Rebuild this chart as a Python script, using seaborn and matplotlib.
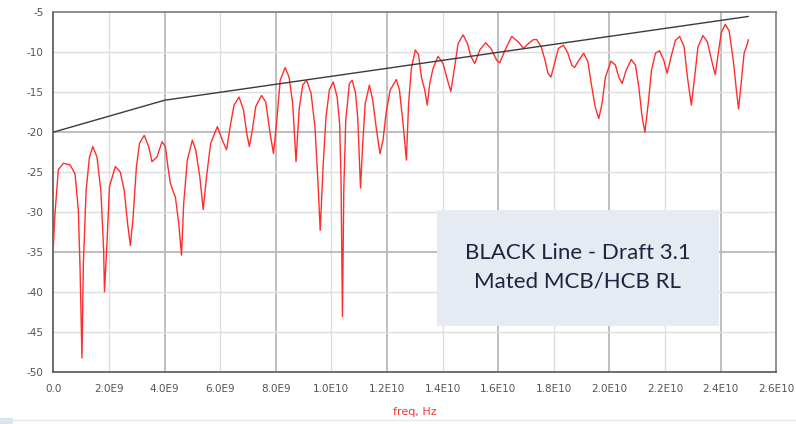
import matplotlib
matplotlib.use("Agg")
import matplotlib.pyplot as plt
from matplotlib.ticker import MultipleLocator, FuncFormatter
from matplotlib.patches import Rectangle
import seaborn as sns
import pandas as pd

# Measured return loss of the mated connector (frequency in GHz, RL in dB)
rl_freq_ghz = [
    0.00, 0.06, 0.18, 0.36, 0.60, 0.78, 0.90, 0.96, 1.03, 1.08, 1.18, 1.30, 1.42, 1.57,
    1.71, 1.81, 1.84, 1.93, 2.02, 2.23, 2.41, 2.55, 2.67, 2.77, 2.87, 2.99, 3.10, 3.27,
    3.43, 3.55, 3.73, 3.91, 4.03, 4.12, 4.21, 4.36, 4.39, 4.51, 4.61, 4.69, 4.82, 5.00,
    5.12, 5.27, 5.39, 5.51, 5.66, 5.90, 6.08, 6.23, 6.38, 6.50, 6.68, 6.84, 6.96, 7.05,
    7.16, 7.28, 7.49, 7.64, 7.80, 7.92, 8.04, 8.16, 8.34, 8.48, 8.61, 8.73, 8.84, 8.97,
    9.11, 9.27, 9.41, 9.51, 9.60, 9.71, 9.81, 9.93, 10.07, 10.21, 10.30, 10.35, 10.40,
    10.45, 10.52, 10.65, 10.75, 10.87, 10.95, 11.05, 11.13, 11.22, 11.37, 11.49, 11.61,
    11.75, 11.86, 11.97, 12.12, 12.34, 12.45, 12.58, 12.70, 12.78, 12.88, 13.02, 13.14,
    13.24, 13.36, 13.45, 13.54, 13.66, 13.84, 14.02, 14.18, 14.30, 14.42, 14.56, 14.74,
    14.90, 15.02, 15.16, 15.34, 15.55, 15.74, 15.95, 16.06, 16.25, 16.49, 16.73, 16.91,
    17.09, 17.27, 17.39, 17.55, 17.69, 17.79, 17.90, 18.03, 18.17, 18.35, 18.51, 18.65,
    18.75, 18.90, 19.08, 19.23, 19.35, 19.49, 19.62, 19.74, 19.86, 20.06, 20.22, 20.34,
    20.46, 20.61, 20.79, 20.94, 21.06, 21.18, 21.28, 21.40, 21.52, 21.66, 21.81, 21.96,
    22.08, 22.24, 22.38, 22.53, 22.69, 22.81, 22.95, 23.07, 23.19, 23.37, 23.53, 23.68,
    23.81, 23.92, 24.03, 24.17, 24.31, 24.46, 24.57, 24.65, 24.73, 24.85, 24.97, 25.00,
]
rl_db = [
    -34.4, -30.2, -24.7, -23.9, -24.1, -25.2, -29.8, -36.9, -48.3, -36.5, -27.3, -23.1, -21.8, -23.1,
    -27.3, -34.8, -40.0, -33.9, -26.8, -24.3, -25.0, -27.3, -31.4, -34.2, -30.6, -24.3, -21.4, -20.4,
    -21.8, -23.7, -23.1, -21.2, -21.8, -24.3, -26.4, -27.9, -28.1, -31.4, -35.4, -28.9, -23.5, -21.0,
    -22.2, -25.6, -29.7, -25.6, -21.4, -19.3, -21.0, -22.2, -18.9, -16.6, -15.6, -17.2, -20.2, -21.8,
    -19.7, -16.8, -15.4, -16.2, -20.2, -22.7, -18.5, -13.5, -11.9, -13.1, -16.4, -23.7, -17.2, -14.1,
    -13.5, -15.1, -19.3, -25.6, -32.3, -23.9, -18.1, -14.7, -13.7, -15.6, -19.0, -26.0, -43.1,
    -27.0, -18.5, -13.9, -13.5, -15.1, -18.1, -27.0, -21.4, -16.4, -14.1, -16.0, -19.3,
    -22.7, -21.0, -17.6, -14.7, -13.4, -14.7, -18.9, -23.5, -16.4, -12.0, -9.7, -10.3,
    -13.1, -14.7, -16.6, -13.9, -12.0, -10.5, -11.4, -13.5, -14.9, -12.2, -8.9, -7.8,
    -8.9, -10.5, -11.4, -9.7, -8.8, -9.5, -11.0, -11.3, -9.7, -8.0, -8.7, -9.5,
    -8.9, -8.4, -8.4, -9.3, -11.0, -12.6, -13.1, -11.4, -9.5, -9.1, -10.1, -11.6,
    -11.9, -11.0, -10.1, -11.2, -13.9, -16.8, -18.3, -16.4, -13.1, -11.1, -11.6, -13.1,
    -13.9, -12.2, -10.9, -11.6, -14.3, -18.1, -20.0, -16.4, -12.2, -10.1, -9.8, -11.0,
    -12.6, -10.3, -8.5, -8.0, -9.3, -13.1, -16.6, -13.1, -9.3, -7.9, -8.7, -11.0,
    -12.8, -10.1, -7.5, -6.5, -7.3, -11.0, -14.7, -17.1, -14.3, -10.1, -8.9, -8.4,
]

# Draft 3.1 return loss limit (breakpoints in GHz, dB)
limit_freq_ghz = [0.0, 4.0, 25.0]
limit_db = [-20.0, -16.0, -5.5]

x_ticks_hz = [i * 2e9 for i in range(14)]
y_ticks_db = [-5, -10, -15, -20, -25, -30, -35, -40, -45, -50]

rl = pd.DataFrame({"freq": [f * 1e9 for f in rl_freq_ghz], "rl": rl_db})
limit = pd.DataFrame({"freq": [f * 1e9 for f in limit_freq_ghz], "rl": limit_db})

sns.set_style("white")
plt.rcParams["font.family"] = ["DejaVu Sans"]

fig = plt.figure(figsize=(7.96, 4.24), dpi=100)
ax = fig.add_axes([0.067, 0.1236, 0.908, 0.847])

sns.lineplot(data=rl, x="freq", y="rl", ax=ax, color="#ff2e2e", lw=1.0,
             estimator=None, sort=False, zorder=3)
sns.lineplot(data=limit, x="freq", y="rl", ax=ax, color="#3a3a3a", lw=1.0,
             estimator=None, sort=False, zorder=4)

ax.set_xlim(0, 2.6e10)
ax.set_ylim(-50, -5)
ax.set_xticks(x_ticks_hz)
ax.set_yticks(y_ticks_db)
ax.xaxis.set_minor_locator(MultipleLocator(1e9))


def freq_label(v, _pos):
    if v == 0:
        return "0.0"
    exp = 0
    m = v
    while abs(m) >= 10:
        m /= 10
        exp += 1
    return f"{m:.1f}E{exp}"


ax.xaxis.set_major_formatter(FuncFormatter(freq_label))
ax.yaxis.set_major_formatter(FuncFormatter(lambda v, _p: f"{int(v)}"))

# grid: heavier lines on the 4 GHz / 15 dB divisions
for xv in x_ticks_hz[1:-1]:
    heavy = (round(xv / 1e9) % 4 == 0)
    ax.axvline(xv, color="#b9b9b9" if heavy else "#dedede", lw=1.3 if heavy else 1.0, zorder=1)
for yv in y_ticks_db[1:-1]:
    heavy = yv in (-20, -35)
    ax.axhline(yv, color="#b9b9b9" if heavy else "#dedede", lw=1.3 if heavy else 1.0, zorder=1)

for side in ["left", "bottom", "top", "right"]:
    ax.spines[side].set_color("#7a7a7a")
    ax.spines[side].set_linewidth(1.2)
ax.spines["left"].set_color("#555555")
ax.spines["bottom"].set_color("#555555")

ax.tick_params(axis="both", which="major", direction="out", length=5, width=1.2,
               color="#555555", labelsize=7.5, labelcolor="#555555", pad=2)
ax.tick_params(axis="x", which="minor", direction="out", length=4, width=1.0, color="#555555")
ax.tick_params(axis="x", which="major", length=6, pad=3)

ax.set_xlabel("freq, Hz", color="#ff3030", fontsize=8, labelpad=9)
ax.set_ylabel("")

# annotation panel
ax.add_patch(Rectangle((0.531, 0.127), 0.39, 0.323, transform=ax.transAxes,
                       facecolor="#e6ebf3", edgecolor="none", zorder=5))
ax.text(0.7255, 0.29, "BLACK Line - Draft 3.1\nMated MCB/HCB RL", transform=ax.transAxes,
        ha="center", va="center", fontsize=16, color="#1c2540", family=["Lato", "DejaVu Sans"],
        linespacing=1.55, zorder=6)

# thin page border along the bottom edge
fig.add_artist(Rectangle((0, 0), 0.016, 0.014, transform=fig.transFigure,
                         facecolor="#dbe3ee", edgecolor="none"))
fig.add_artist(plt.Line2D([0, 1], [0.01, 0.01], transform=fig.transFigure,
                          color="#e4e8ee", lw=1.0))

fig.savefig("out.png", dpi=100, facecolor="white")
